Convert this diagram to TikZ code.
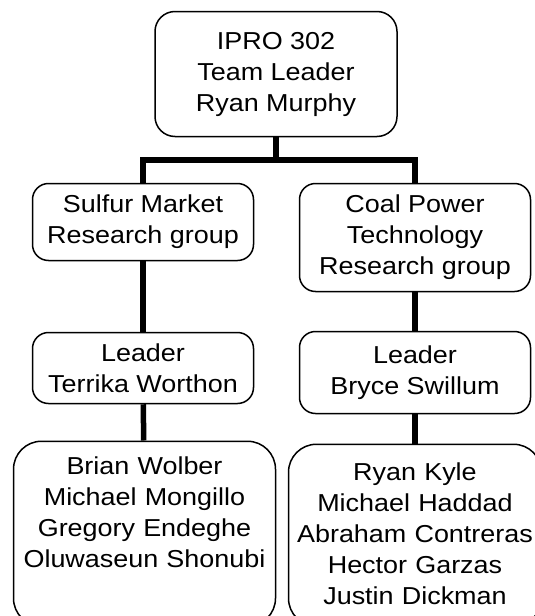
\documentclass[tikz,border=0pt]{standalone}
\usepackage{fontspec}
\setmainfont{Liberation Sans}[FakeStretch=1.1]
\usepackage{tikz}

\begin{document}
\begin{tikzpicture}[x=1pt, y=-1pt]
    % Styles
    \tikzstyle{block} = [rectangle, draw, line width=1.5pt, rounded corners=16pt, inner sep=0pt, align=center, font=\fontsize{24.5}{31}\selectfont]
    \tikzstyle{team} = [block, anchor=north, rounded corners=28pt, text height=33pt]
    \tikzstyle{line} = [line width=5.5pt]

    \useasboundingbox (0,0) rectangle (535,616);

    % Nodes
    \node [block, minimum width=242pt, minimum height=125pt, rounded corners=20pt] (lead) at (276,74) {IPRO 302\\Team Leader\\Ryan Murphy};
    \node [block, minimum width=221pt, minimum height=77pt] (sulfur) at (143,222) {Sulfur Market\\Research group};
    \node [block, minimum width=231pt, minimum height=108pt] (coal) at (415,237.5) {Coal Power\\Technology\\Research group};
    \node [block, minimum width=221pt, minimum height=71pt] (sulfurlead) at (143,368) {Leader\\Terrika Worthon};
    \node [block, minimum width=231pt, minimum height=82pt] (coallead) at (415,372.5) {Leader\\Bryce Swillum};
    \node [team, text width=262pt, text depth=152pt] (sulfurteam) at (144.5,440.5) {Brian Wolber\\Michael Mongillo\\Gregory Endeghe\\Oluwaseun Shonubi};
    \node [team, text width=253pt, text height=36pt, text depth=146pt] (coalteam) at (415,443.5) {Ryan Kyle\\Michael Haddad\\Abraham Contreras\\Hector Garzas\\Justin Dickman};

    % Lines
    \coordinate (split) at (276,160);
    \draw [line] (lead.south) -- (split) -| (sulfur.north);
    \draw [line] (split) -| (coal.north);
    \draw [line] (sulfur) -- (sulfurlead);
    \draw [line] (sulfurlead) -- (sulfurteam);
    \draw [line] (coal) -- (coallead);
    \draw [line] (coallead) -- (coalteam);
\end{tikzpicture}
\end{document}
